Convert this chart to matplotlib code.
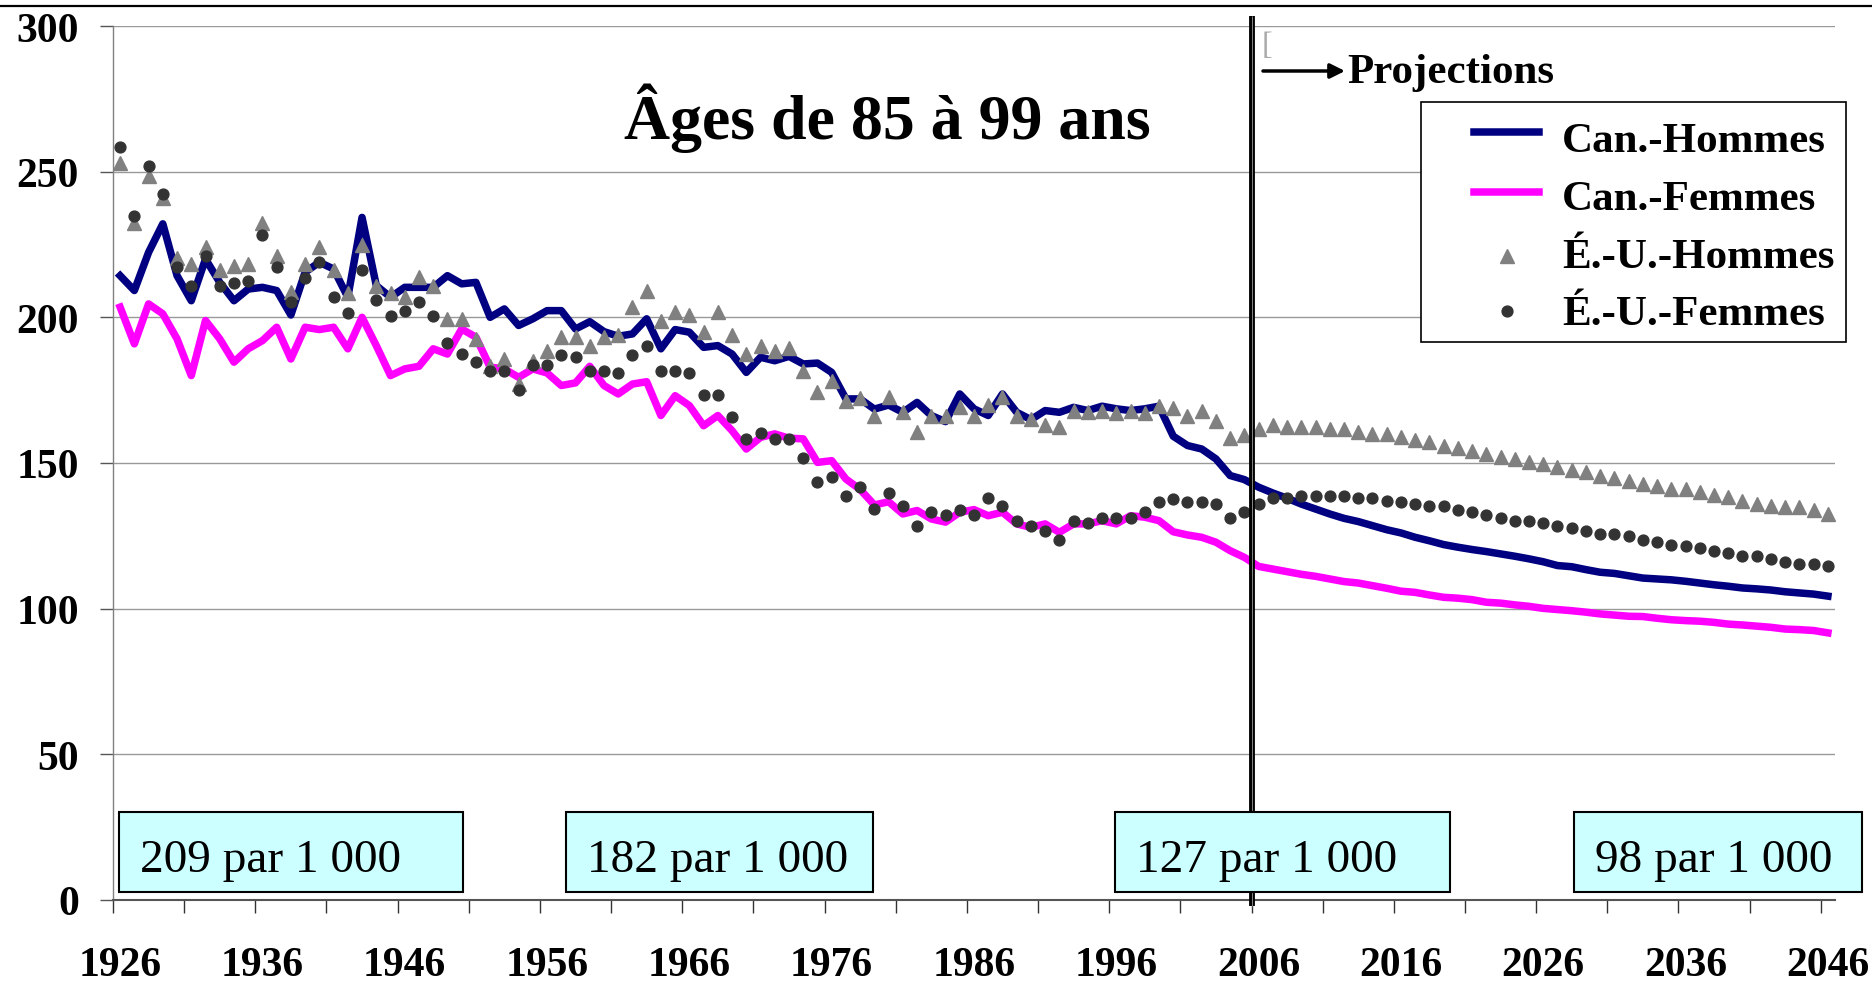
import matplotlib
matplotlib.use("Agg")
import matplotlib.pyplot as plt
from matplotlib.patches import Rectangle
from matplotlib.lines import Line2D
import numpy as np

plt.rcParams['font.family'] = ['Liberation Serif', 'DejaVu Serif']

# ---------------- data ----------------
years = list(range(1926, 2047))

can_hommes = [
    214.3, 209.2, 222.3, 232.1, 214.3, 205.7, 220.0, 212.0, 205.7, 209.7,   # 1926-1935
    210.3, 209.2, 200.8, 215.5, 218.9, 216.6, 206.9, 234.3, 210.9, 206.9,   # 1936-1945
    210.3, 210.3, 210.3, 214.3, 211.5, 212.0, 200.0, 202.9, 197.2, 199.5,   # 1946-1955
    202.3, 202.3, 196.0, 198.5, 195.1, 193.5, 194.3, 199.5, 189.2, 195.8,   # 1956-1965
    194.9, 189.7, 190.3, 187.4, 181.1, 186.3, 185.1, 186.6, 184.0, 184.3,   # 1966-1975
    181.1, 172.0, 172.0, 168.5, 169.9, 167.4, 170.8, 166.3, 164.2, 173.7,   # 1976-1985
    168.6, 166.3, 173.7, 167.4, 164.9, 168.0, 167.4, 169.1, 168.0, 169.5,   # 1986-1995
    168.6, 168.0, 168.6, 169.5, 159.2, 156.0, 154.8, 151.4, 145.7, 144.3,   # 1996-2005
    141.7, 139.7, 137.9, 135.9, 134.2, 132.5, 131.0, 129.9, 128.5, 127.1,   # 2006-2015
    126.0, 124.5, 123.3, 122.0, 121.1, 120.3, 119.6, 118.8, 118.0, 117.1,   # 2016-2025
    116.1, 114.8, 114.4, 113.4, 112.5, 112.1, 111.3, 110.5, 110.2, 109.9,   # 2026-2035
    109.4, 108.8, 108.2, 107.7, 107.1, 106.8, 106.4, 105.8, 105.4, 105.0,   # 2036-2045
    104.3,                                                                  # 2046
]

can_femmes = [
    203.5, 190.9, 204.6, 201.2, 192.6, 180.0, 198.9, 192.6, 184.6, 189.2,
    192.0, 196.6, 185.7, 196.6, 195.8, 196.6, 189.2, 200.0, 190.3, 180.0,
    182.3, 183.2, 189.2, 187.4, 196.0, 193.2, 182.9, 182.3, 179.4, 182.3,
    180.9, 176.6, 177.5, 183.2, 176.6, 173.7, 177.1, 177.9, 166.3, 173.1,
    169.7, 162.8, 166.3, 161.1, 154.8, 158.8, 160.0, 158.5, 158.3, 150.2,
    150.8, 144.5, 140.9, 135.6, 136.7, 132.5, 133.7, 130.8, 129.7, 133.1,
    134.0, 131.9, 133.1, 129.1, 127.9, 129.1, 126.2, 129.1, 129.1, 130.2,
    129.1, 131.9, 131.4, 130.2, 126.4, 125.3, 124.5, 122.8, 119.9, 117.6,
    114.5, 113.6, 112.7, 111.8, 111.1, 110.2, 109.3, 108.8, 107.9, 107.0,
    106.0, 105.6, 104.7, 103.9, 103.6, 103.1, 102.2, 101.9, 101.3, 100.8,
    100.1, 99.7, 99.3, 98.8, 98.2, 97.8, 97.4, 97.3, 96.7, 96.2,
    95.9, 95.7, 95.3, 94.7, 94.4, 94.0, 93.6, 93.0, 92.8, 92.5,
    91.7,
]

eu_hommes = [
    252.9, 232.4, 248.4, 240.9, 220.3, 218.3, 224.1, 216.4, 217.5, 218.3,
    232.4, 221.2, 208.8, 218.3, 224.1, 216.4, 208.3, 224.9, 210.9, 208.3,
    207.1, 213.8, 210.9, 199.5, 199.5, 192.4, 183.2, 185.7, 177.1, 185.1,
    188.6, 193.2, 193.2, 190.3, 193.2, 194.0, 203.5, 209.2, 198.9, 201.7,
    200.8, 195.1, 201.7, 194.0, 187.4, 190.3, 188.6, 189.4, 181.7, 174.3,
    178.3, 171.4, 172.2, 166.3, 172.6, 167.4, 160.6, 166.3, 166.3, 169.1,
    166.3, 169.9, 172.6, 166.3, 165.1, 163.1, 162.3, 168.0, 167.4, 168.0,
    167.2, 168.0, 167.2, 169.7, 168.8, 166.3, 168.0, 164.5, 158.5, 159.6,
    161.6, 163.2, 162.5, 162.3, 162.5, 161.7, 161.7, 160.8, 160.0, 160.0,
    158.8, 157.9, 157.1, 156.0, 155.2, 154.2, 153.1, 152.0, 151.4, 150.5,
    149.7, 148.5, 147.7, 146.8, 145.7, 144.8, 143.9, 142.8, 142.0, 141.1,
    141.1, 140.0, 139.0, 138.2, 137.1, 135.9, 135.4, 134.8, 134.8, 133.7,
    132.5,
]

eu_femmes = [
    258.4, 234.9, 251.9, 242.4, 217.2, 210.7, 221.2, 210.9, 211.8, 212.6,
    228.4, 217.4, 205.2, 213.4, 219.1, 206.9, 201.5, 216.4, 206.0, 200.4,
    202.3, 205.4, 200.4, 191.1, 187.4, 184.6, 181.7, 181.7, 175.2, 183.7,
    183.7, 187.2, 186.5, 181.7, 181.7, 180.8, 187.1, 190.1, 181.7, 181.7,
    180.8, 173.4, 173.4, 165.9, 158.3, 160.3, 158.3, 158.3, 151.8, 143.6,
    145.3, 138.8, 141.7, 134.2, 139.7, 135.1, 128.5, 133.1, 132.3, 134.0,
    132.3, 137.9, 135.1, 130.2, 128.5, 126.6, 123.7, 130.2, 129.4, 131.1,
    131.1, 131.1, 133.1, 136.7, 137.7, 136.7, 136.7, 135.9, 131.1, 133.1,
    135.9, 137.9, 137.9, 138.8, 138.8, 138.8, 138.8, 138.0, 138.0, 137.1,
    136.7, 135.9, 135.1, 135.1, 134.0, 133.1, 132.2, 131.0, 130.2, 130.2,
    129.4, 128.5, 127.6, 126.6, 125.6, 125.6, 124.8, 123.7, 122.8, 122.0,
    121.6, 120.8, 119.9, 119.1, 118.2, 118.2, 117.1, 116.1, 115.3, 115.3,
    114.6,
]

series_labels = ['Can.-Hommes', 'Can.-Femmes', 'É.-U.-Hommes', 'É.-U.-Femmes']
title_text = 'Âges de 85 à 99 ans'
projection_text = 'Projections'
projection_start = 2006
box_labels = ['209 par 1 000', '182 par 1 000', '127 par 1 000', '98 par 1 000']
x_label_years = list(range(1926, 2047, 10))
y_ticks = [0, 50, 100, 150, 200, 250, 300]

# ---------------- figure ----------------
W, H = 1872, 987
fig = plt.figure(figsize=(W / 100, H / 100), dpi=100)
fig.patch.set_facecolor('white')

def fx(px):
    return px / W

def fy(py):
    return 1 - py / H

ax_left, ax_right, ax_top, ax_bottom = 113, 1835, 27, 901
ax = fig.add_axes([fx(ax_left), fy(ax_bottom), fx(ax_right - ax_left), (ax_bottom - ax_top) / H])

c_men, c_women = '#000080', '#FF00FF'
c_tri, c_dot = '#808080', '#333333'

ax.plot(years, can_hommes, color=c_men, lw=5.4, solid_joinstyle='round', zorder=3)
ax.plot(years, can_femmes, color=c_women, lw=5.4, solid_joinstyle='round', zorder=3)
ax.plot(years, eu_hommes, ls='none', marker='^', ms=10, color=c_tri, mec=c_tri, zorder=4)
ax.plot(years, eu_femmes, ls='none', marker='o', ms=7.8, color=c_dot, mec=c_dot, zorder=5)

ax.set_xlim(years[0] - 0.5, years[-1] + 0.5)
ax.set_ylim(0, 300)

# y axis
ax.set_yticks(y_ticks)
ax.set_yticklabels([str(v) for v in y_ticks])
ax.yaxis.grid(True, color='#999999', lw=1)
ax.set_axisbelow(True)
ax.tick_params(axis='y', direction='out', length=9.5, width=1, color='#555555', pad=15,
               labelsize=30)
for lab in ax.get_yticklabels():
    lab.set_fontweight('bold')

# x axis: ticks at category boundaries, labels at category centres
ax.set_xticks(np.arange(years[0] - 0.5, years[-1] + 1, 5))
ax.set_xticklabels([])
ax.set_xticks(x_label_years, minor=True)
ax.set_xticklabels([str(y) for y in x_label_years], minor=True)
ax.tick_params(axis='x', which='major', direction='out', length=9.5, width=1, color='#333333')
ax.tick_params(axis='x', which='minor', length=0, pad=33, labelsize=30)
for lab in ax.get_xticklabels(minor=True):
    lab.set_fontweight('bold')

for s in ['top', 'right']:
    ax.spines[s].set_visible(False)
ax.spines['left'].set_color('#808080')
ax.spines['left'].set_linewidth(1)
ax.spines['bottom'].set_color('#555555')
ax.spines['bottom'].set_linewidth(1.5)

# projection start line
xv = projection_start - 0.5
ax.plot([xv, xv], [-2, 303.5], color='black', lw=4.2, clip_on=False, zorder=6,
        solid_capstyle='butt')
ax.plot([xv, xv], [-2, 303.5], color='#888888', lw=0.7, clip_on=False, zorder=7,
        solid_capstyle='butt')

# top frame line
fig.add_artist(Line2D([0, 1], [fy(6.5), fy(6.5)], transform=fig.transFigure,
                      color='black', lw=1.6))

# title
fig.text(fx(887), fy(139), title_text, ha='center', va='baseline',
         fontsize=46, fontweight='bold')

# Projections arrow + text
ax.annotate('', xy=(1345, H - 72), xytext=(1263, H - 72), xycoords='figure pixels',
            textcoords='figure pixels',
            arrowprops=dict(arrowstyle='-|>', lw=2.5, color='black', mutation_scale=22,
                            shrinkA=0, shrinkB=0))
fig.text(fx(1347), fy(83), projection_text, ha='left', va='baseline',
         fontsize=31, fontweight='bold')
fig.text(fx(1262), fy(54), '[', ha='left', va='baseline', fontsize=23, color='#aaaaaa')

# legend (drawn manually to match the original layout)
fig.add_artist(Rectangle((fx(1421), fy(343)), fx(1846 - 1421), (343 - 103) / H,
                         transform=fig.transFigure, facecolor='white',
                         edgecolor='black', lw=1.2, zorder=8))
leg_y = [133, 193, 257, 312]
leg_base = [152, 210, 268, 325]
fig.add_artist(Line2D([fx(1474), fx(1539)], [fy(leg_y[0])] * 2, transform=fig.transFigure,
                      color=c_men, lw=5.4, zorder=9))
fig.add_artist(Line2D([fx(1474), fx(1539)], [fy(leg_y[1])] * 2, transform=fig.transFigure,
                      color=c_women, lw=5.4, zorder=9))
fig.add_artist(Line2D([fx(1507)], [fy(leg_y[2])], transform=fig.transFigure, ls='none',
                      marker='^', ms=10, color=c_tri, zorder=9))
fig.add_artist(Line2D([fx(1507)], [fy(leg_y[3])], transform=fig.transFigure, ls='none',
                      marker='o', ms=7.8, color=c_dot, zorder=9))
for lab, yb in zip(series_labels, leg_base):
    fig.text(fx(1562), fy(yb), lab, ha='left', va='baseline', fontsize=31,
             fontweight='bold', zorder=10)

# rate boxes
box_x = [(119, 463), (566, 873), (1115, 1450), (1574, 1862)]
for (x0, x1), lab in zip(box_x, box_labels):
    fig.add_artist(Rectangle((fx(x0), fy(893)), fx(x1 - x0), 80 / H,
                             transform=fig.transFigure, facecolor='#CCFFFF',
                             edgecolor='black', lw=1.5, zorder=8))
    fig.text(fx(x0 + 21), fy(872), lab, ha='left', va='baseline', fontsize=34, zorder=10)

fig.savefig('out.png', dpi=100)
